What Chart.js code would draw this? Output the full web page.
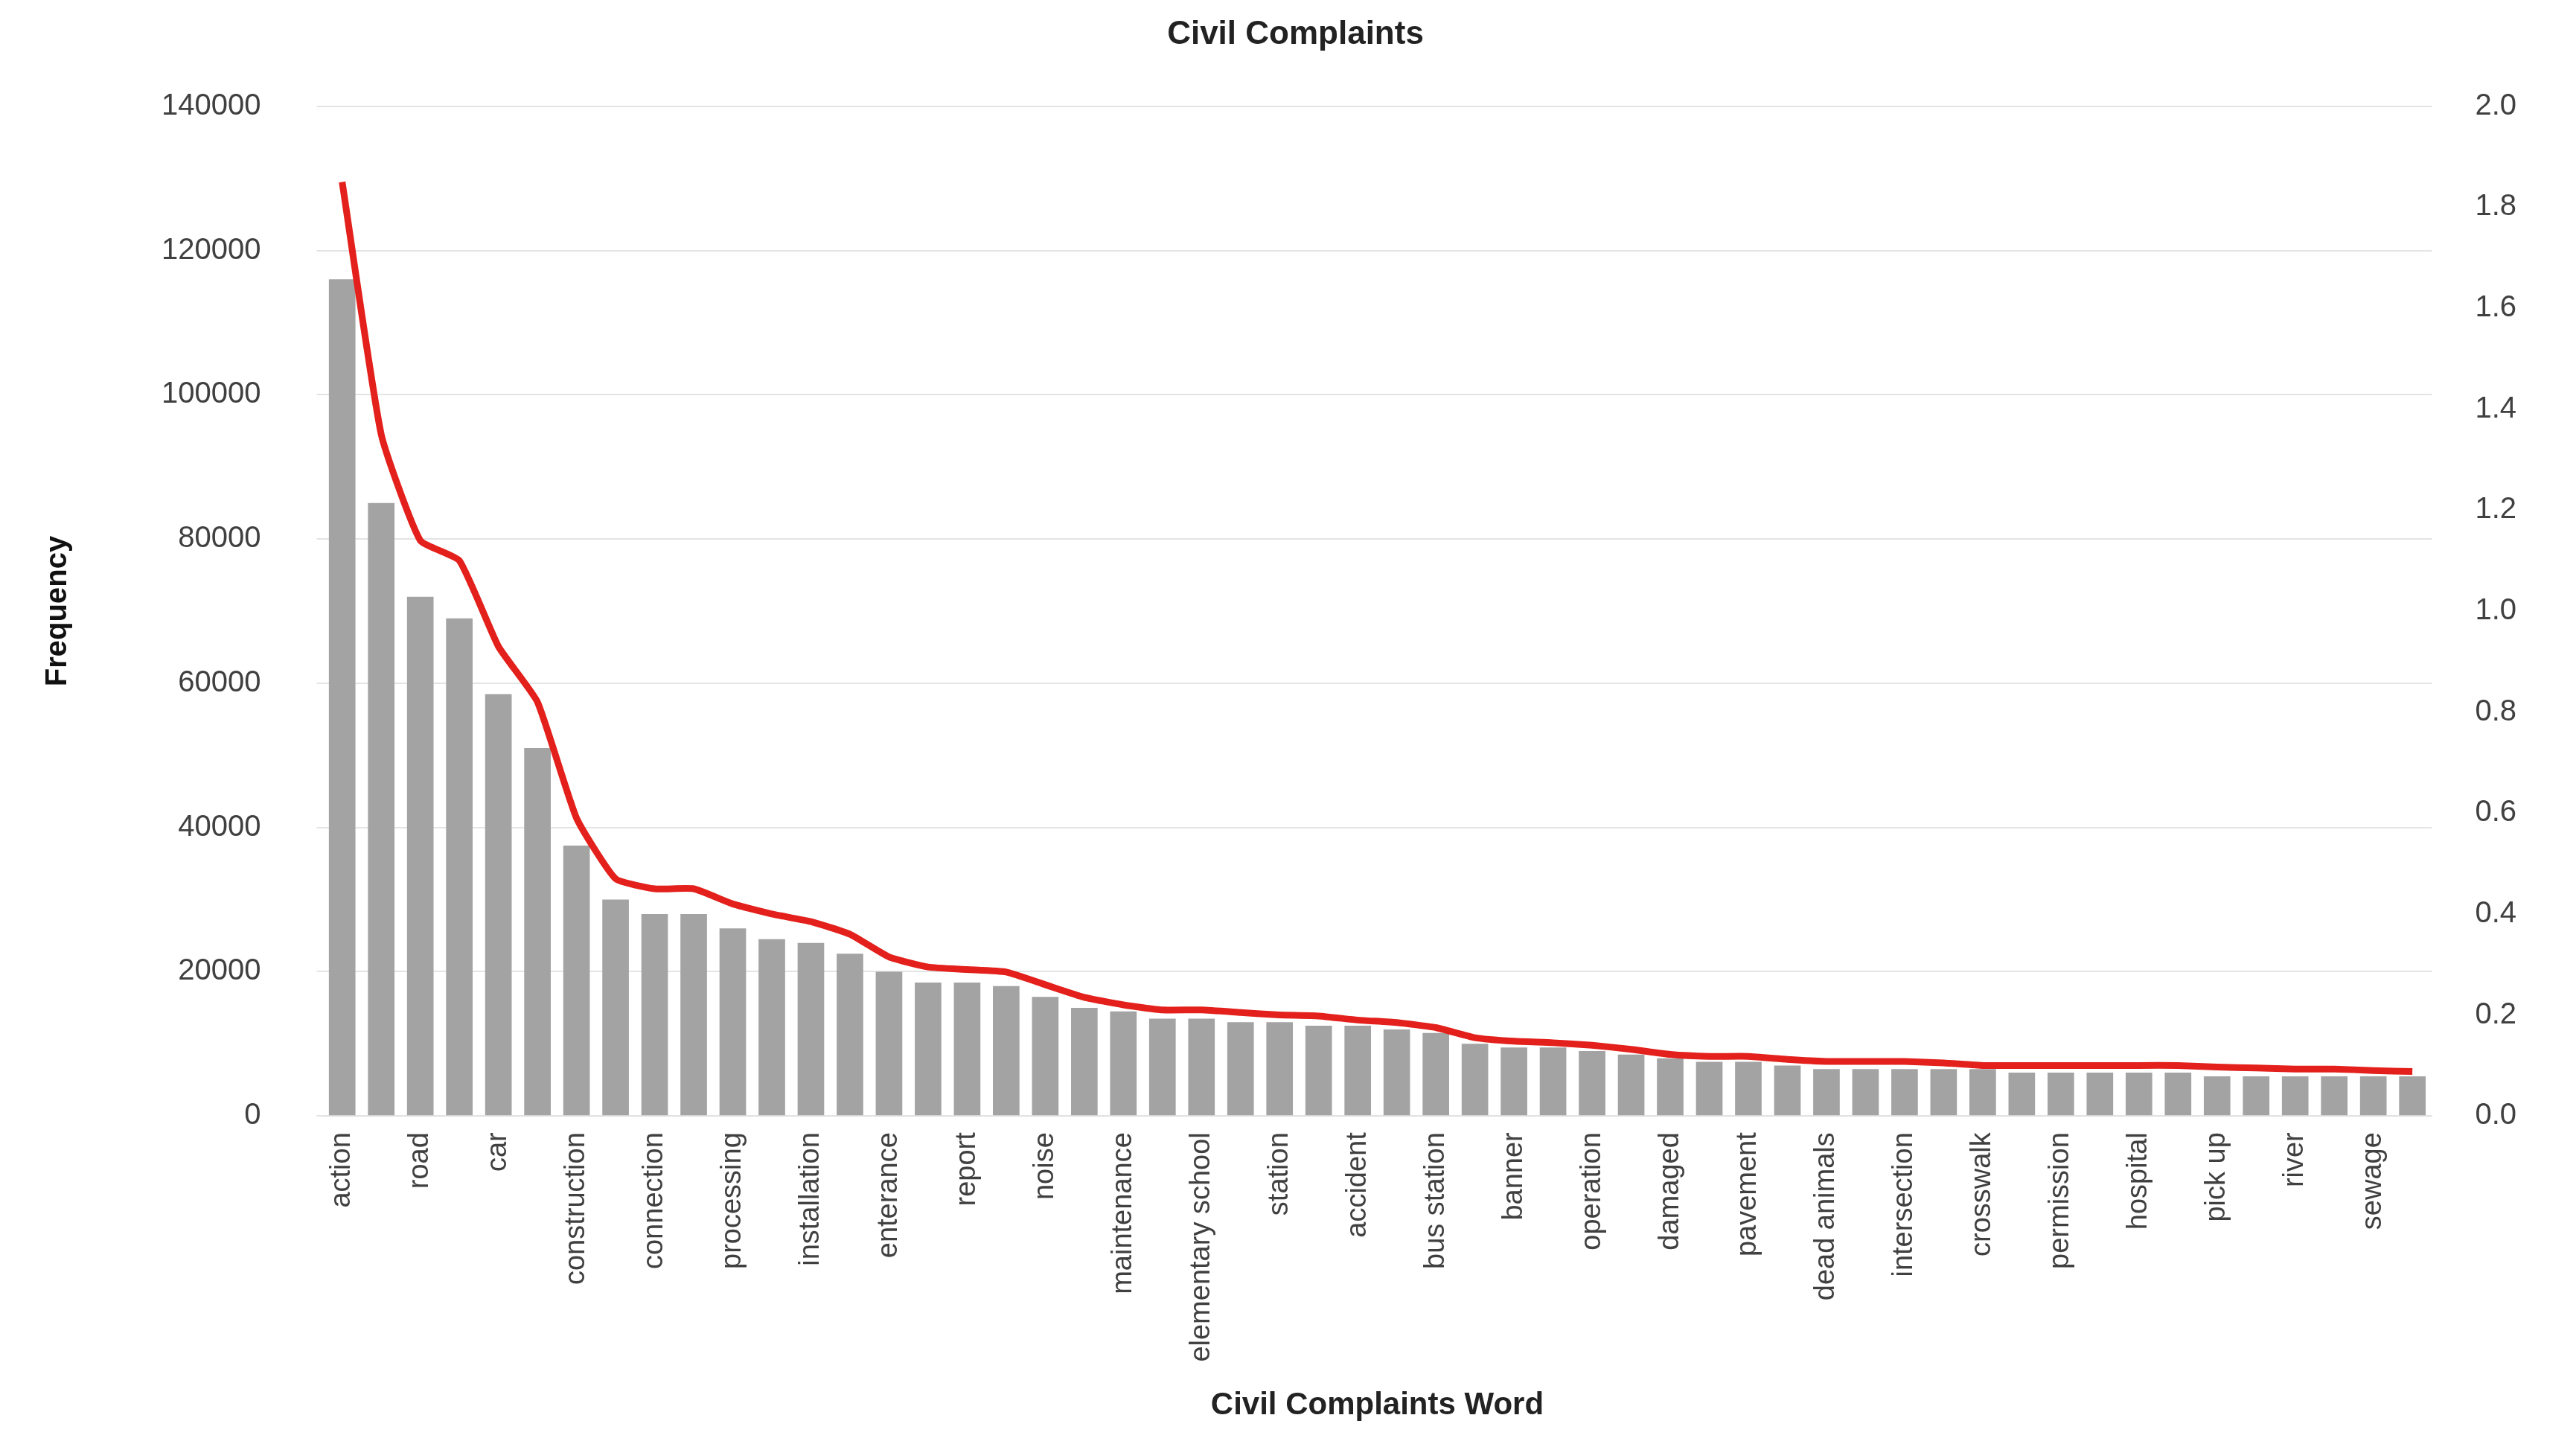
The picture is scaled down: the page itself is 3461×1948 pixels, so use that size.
<!DOCTYPE html>
<html><head><meta charset="utf-8">
<script src="https://cdn.jsdelivr.net/npm/chart.js@4"></script>
<style>html,body{margin:0;background:#fff}#w{width:3461px;height:1948px}</style>
</head><body><div id="w"><canvas id="c"></canvas></div>
<script>
const wordLabels = ["action","","road","","car","","construction","","connection","","processing","","installation","","enterance","","report","","noise","","maintenance","","elementary school","","station","","accident","","bus station","","banner","","operation","","damaged","","pavement","","dead animals","","intersection","","crosswalk","","permission","","hospital","","pick up","","river","","sewage",""];
const frequency = [116000,85000,72000,69000,58500,51000,37500,30000,28000,28000,26000,24500,24000,22500,20000,18500,18500,18000,16500,15000,14500,13500,13500,13000,13000,12500,12500,12000,11500,10000,9500,9500,9000,8500,8000,7500,7500,7000,6500,6500,6500,6500,6500,6000,6000,6000,6000,6000,5500,5500,5500,5500,5500,5500];
const ratio = [1.85,1.35,1.14,1.10,0.93,0.82,0.59,0.47,0.45,0.45,0.42,0.40,0.385,0.36,0.315,0.295,0.29,0.285,0.26,0.235,0.22,0.21,0.21,0.205,0.20,0.198,0.19,0.185,0.175,0.155,0.148,0.145,0.14,0.132,0.122,0.118,0.118,0.112,0.108,0.108,0.108,0.105,0.10,0.10,0.10,0.10,0.10,0.10,0.097,0.095,0.093,0.093,0.09,0.088];
Chart.defaults.font.family = "Liberation Sans, Arial, sans-serif";
Chart.defaults.color = "#404040";
new Chart(document.getElementById('c'), {
  data: { labels: wordLabels, datasets: [
    { type:'line', data: ratio, yAxisID:'y2', borderColor:'#e3201b', borderWidth:9, pointRadius:0, tension:0.15, order:0 },
    { type:'bar', data: frequency, yAxisID:'y', backgroundColor:'#a3a3a3', categoryPercentage:0.68, barPercentage:1, order:1 }
  ]},
  options: {
    responsive:true, maintainAspectRatio:false, animation:false,
    layout:{padding:{left:50,right:30,top:10,bottom:30}},
    plugins:{ legend:{display:false}, tooltip:{enabled:false},
      title:{display:true,text:'Civil Complaints',font:{size:44,weight:'bold'},color:'#222',padding:{top:10,bottom:70}} },
    scales:{
      x:{ grid:{display:false}, border:{color:'#d9d9d9'},
        ticks:{autoSkip:false,minRotation:90,maxRotation:90,font:{size:38},color:'#404040',padding:14},
        title:{display:true,text:'Civil Complaints Word',font:{size:42,weight:'bold'},color:'#222',padding:{top:20}} },
      y:{ position:'left', min:0, max:140000, grid:{color:'#e4e4e4',lineWidth:2}, border:{display:false},
        ticks:{stepSize:20000,font:{size:40},padding:75,callback:v=>String(v)},
        title:{display:true,text:'Frequency',font:{size:40,weight:'bold'},color:'#111',padding:{bottom:40}} },
      y2:{ position:'right', min:0, max:2, grid:{display:false}, border:{display:false},
        ticks:{stepSize:0.2,font:{size:40},padding:50,callback:v=>v.toFixed(1)} }
    }
  }
});
</script></body></html>
